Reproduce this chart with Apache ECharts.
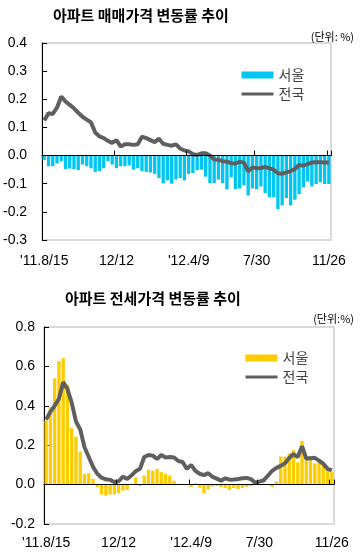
<!DOCTYPE html>
<html><head><meta charset="utf-8">
<script src="https://cdn.jsdelivr.net/npm/echarts@6/dist/echarts.min.js"></script>
<style>html,body{margin:0;padding:0;background:#fff}#c{width:362px;height:553px}</style>
</head><body><div id="c"></div><script>
// weekly categories 2011-08-15 .. 2012-11-26 (68 weeks)
const categories = [];
(function(){ const d = new Date(2011, 7, 15); for (let i = 0; i < 68; i++) { categories.push((d.getFullYear()%100) + '.' + (d.getMonth()+1) + '/' + d.getDate()); d.setDate(d.getDate() + 7); } })();
const tickLabels = {0: "'11.8/15", 17: '12/12', 34: "'12.4/9", 50: '7/30', 67: '11/26'};
const tickIdx = [17, 34, 50, 67];

const saleSeoul = [-0.015,-0.038,-0.038,-0.028,-0.02,-0.048,-0.046,-0.048,-0.052,-0.032,-0.038,-0.045,-0.058,-0.055,-0.045,-0.02,-0.032,
 -0.045,-0.038,-0.038,-0.035,-0.05,-0.045,-0.055,-0.058,-0.06,-0.065,-0.08,-0.098,-0.088,-0.1,-0.085,-0.08,-0.088,
 -0.065,-0.062,-0.052,-0.05,-0.075,-0.098,-0.098,-0.085,-0.098,-0.12,-0.077,-0.119,-0.117,-0.106,-0.142,-0.117,
 -0.12,-0.11,-0.133,-0.148,-0.148,-0.19,-0.177,-0.151,-0.177,-0.157,-0.137,-0.113,-0.092,-0.11,-0.101,-0.095,-0.101,-0.101];
const saleNation = [0.125,0.15,0.148,0.17,0.21,0.192,0.18,0.168,0.152,0.138,0.128,0.118,0.082,0.068,0.062,0.052,0.045,
 0.055,0.032,0.04,0.04,0.038,0.04,0.067,0.062,0.055,0.048,0.06,0.042,0.038,0.035,0.04,0.025,0.018,
 0.015,0.005,0.002,0.008,0.008,0.0,-0.014,-0.015,-0.02,-0.022,-0.027,-0.028,-0.022,-0.025,-0.056,-0.042,
 -0.045,-0.044,-0.04,-0.045,-0.05,-0.063,-0.065,-0.06,-0.055,-0.048,-0.033,-0.036,-0.03,-0.025,-0.024,-0.024,-0.025,-0.025];
const rentSeoul = [0.325,0.393,0.54,0.627,0.642,0.507,0.286,0.244,0.168,0.054,0.058,0.029,-0.012,-0.05,-0.056,-0.05,-0.05,
 -0.045,-0.03,-0.027,0,0.037,-0.007,0.046,0.075,0.071,0.08,0.063,0.054,0.046,0.02,0,0,0,
 -0.012,0.007,-0.016,-0.045,-0.025,-0.01,-0.007,-0.012,-0.017,-0.027,-0.017,-0.022,-0.017,-0.012,-0.007,0.003,
 0,0.006,0,-0.012,0.017,0.142,0.142,0.158,0.175,0.113,0.222,0.139,0.146,0.108,0.122,0.097,0.071,0.063];
const rentNation = [0.33,0.37,0.40,0.436,0.52,0.485,0.415,0.32,0.28,0.19,0.14,0.09,0.055,0.035,0.027,0.024,0.013,
 0.017,0.04,0.029,0.046,0.068,0.08,0.14,0.15,0.147,0.13,0.15,0.138,0.14,0.138,0.12,0.115,0.08,
 0.1,0.07,0.055,0.048,0.058,0.04,0.03,0.02,0.032,0.025,0.026,0.028,0.032,0.034,0.028,0.01,
 0.015,0.022,0.045,0.07,0.085,0.095,0.108,0.135,0.155,0.14,0.195,0.132,0.134,0.136,0.122,0.105,0.08,0.072];

const FONT = "'Liberation Sans', Arial, 'Noto Sans CJK KR', sans-serif";
const KFONT = "'Noto Sans CJK KR', sans-serif";
const LINE = '#5f5f5f';

function labelAxis(grid, margin) {
  return { type: 'category', gridIndex: grid, data: categories, position: 'bottom',
    axisLine: { show: false, onZero: false }, axisTick: { show: false },
    axisLabel: { interval: i => i in tickLabels, formatter: (v, i) => tickLabels[i] || '', margin: margin,
      fontFamily: FONT, fontSize: 14, color: '#000' } };
}
function zeroAxis(grid) {
  return { type: 'category', gridIndex: grid, data: categories, position: 'bottom', z: 5,
    axisLine: { show: true, onZero: true, lineStyle: { color: '#000', width: 1 } },
    axisTick: { show: true, inside: true, length: 5, interval: i => tickIdx.includes(i), lineStyle: { color: '#000' } },
    axisLabel: { show: false } };
}
function yAx(grid, min, max, interval, margin) {
  return { type: 'value', gridIndex: grid, min, max, interval,
    axisLine: { show: true, lineStyle: { color: '#000', width: 1 } },
    axisTick: { show: true, inside: true, length: 5, lineStyle: { color: '#000' } },
    splitLine: { show: false },
    axisLabel: { formatter: v => v.toFixed(1), margin: margin, fontFamily: FONT, fontSize: 14, color: '#000' } };
}
function legendFor(suffix, left, top, barColor) {
  return { orient: 'vertical', left, top, padding: 0, itemWidth: 32, itemHeight: 7, itemGap: 5,
    data: [
      { name: '서울' + suffix, icon: 'rect', itemStyle: { color: barColor } },
      { name: '전국' + suffix, itemStyle: { opacity: 0 }, lineStyle: { color: LINE, width: 3 } }
    ],
    formatter: n => n.split('#')[0],
    textStyle: { fontFamily: KFONT, fontSize: 14, color: '#404040' } };
}

const chart = echarts.init(document.getElementById('c'), null, { renderer: 'canvas' });
chart.setOption({
  animation: false,
  backgroundColor: '#fff',
  title: [
    { text: '아파트 매매가격 변동률 추이', left: 48, top: 3, textStyle: { fontFamily: KFONT, fontSize: 15, fontWeight: 'bold', color: '#000' } },
    { text: '(단위: %)', right: 3, top: 26, textStyle: { fontFamily: KFONT, fontSize: 11, fontWeight: 'normal', color: '#000' } },
    { text: '아파트 전세가격 변동률 추이', left: 60, top: 286, textStyle: { fontFamily: KFONT, fontSize: 15, fontWeight: 'bold', color: '#000' } },
    { text: '(단위:%)', right: 3, top: 308, textStyle: { fontFamily: KFONT, fontSize: 11, fontWeight: 'normal', color: '#000' } }
  ],
  legend: [legendFor('#1', 240, 68, '#00c6f4'), legendFor('#2', 244, 351, '#ffcc00')],
  grid: [
    { left: 42, top: 43, width: 289, height: 197, show: true, borderColor: '#d9d9d9', borderWidth: 2, backgroundColor: 'transparent' },
    { left: 44, top: 327, width: 290, height: 197, show: true, borderColor: '#d9d9d9', borderWidth: 2, backgroundColor: 'transparent' }
  ],
  xAxis: [labelAxis(0, 14), zeroAxis(0), labelAxis(1, 12), zeroAxis(1)],
  yAxis: [yAx(0, -0.3, 0.4, 0.1, 15), yAx(1, -0.2, 0.8, 0.2, 9)],
  series: [
    { name: '서울#1', type: 'bar', xAxisIndex: 0, yAxisIndex: 0, data: saleSeoul, barCategoryGap: '22%', itemStyle: { color: '#00c6f4' } },
    { name: '전국#1', type: 'line', xAxisIndex: 0, yAxisIndex: 0, data: saleNation, symbol: 'none', z: 4, lineStyle: { color: LINE, width: 4 }, itemStyle: { color: LINE } },
    { name: '서울#2', type: 'bar', xAxisIndex: 2, yAxisIndex: 1, data: rentSeoul, barCategoryGap: '22%', itemStyle: { color: '#ffcc00' } },
    { name: '전국#2', type: 'line', xAxisIndex: 2, yAxisIndex: 1, data: rentNation, symbol: 'none', z: 4, lineStyle: { color: LINE, width: 4 }, itemStyle: { color: LINE } }
  ]
});
</script></body></html>
